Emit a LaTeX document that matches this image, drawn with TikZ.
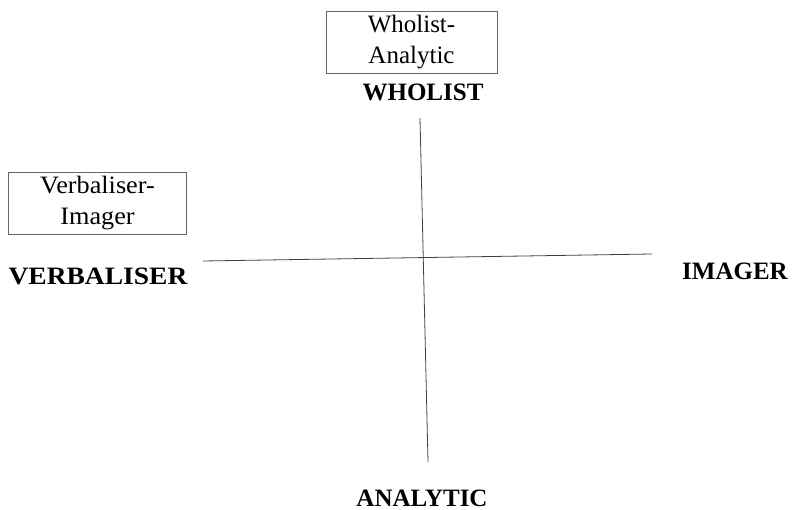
\documentclass[tikz,border=0pt]{standalone}
\usepackage{fontspec}
\setmainfont{Liberation Serif}
\usepackage{tikz}

\begin{document}
\begin{tikzpicture}[x=1pt,y=-1pt,
		stylebox/.style={draw=black!60, line width=0.7pt, align=center, inner sep=0pt,
			font=\fontsize{25}{31}\selectfont},
		axisname/.style={font=\fontsize{25}{30}\selectfont\bfseries},
		axisline/.style={draw=black!75, line width=0.8pt}]
		\useasboundingbox (0,0) rectangle (795,510);
		% style boxes
		\node [stylebox, minimum width=171pt, minimum height=62pt] (WA) at (411.5,42)
			{ Wholist-\\Analytic };
		\node [stylebox, xscale=1.05, minimum width=170pt, minimum height=62pt] (VI) at (97.5,203)
			{ Verbaliser-\\Imager };
		% axis ends
		\node [axisname] (WH) at (423,92) { WHOLIST };
		\node [axisname] (AN) at (422,498) { ANALYTIC };
		\node [axisname, xscale=1.1] (VB) at (98,276) { VERBALISER };
		\node [axisname] (IM) at (735,271) { IMAGER };
		\coordinate (N) at (420,118);
		\coordinate (S) at (428,462);
		\coordinate (W) at (203,261);
		\coordinate (E) at (652,254);
		\draw [axisline] (N) -- (S);
		\draw [axisline] (W) -- (E);
	\end{tikzpicture}
\end{document}
